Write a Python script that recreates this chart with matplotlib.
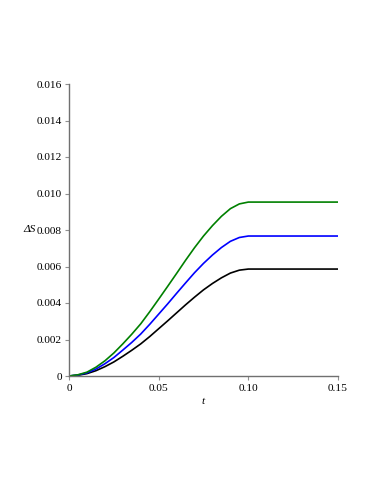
import matplotlib
matplotlib.use("Agg")
import matplotlib.pyplot as plt

t = [0.0, 0.005, 0.01, 0.015, 0.02, 0.025, 0.03, 0.035, 0.04, 0.045, 0.05,
     0.055, 0.06, 0.065, 0.07, 0.075, 0.08, 0.085, 0.09, 0.095, 0.10, 0.15]
green = [0.0, 0.000067, 0.00021, 0.00048, 0.00083, 0.00126, 0.00176, 0.00229,
         0.00286, 0.00352, 0.00421, 0.00491, 0.00562, 0.00634, 0.00703, 0.00767,
         0.00824, 0.00875, 0.00917, 0.00943, 0.00953, 0.00953]
blue = [0.0, 0.000054, 0.00017, 0.00038, 0.00067, 0.00101, 0.00142, 0.00184,
        0.0023, 0.00283, 0.00339, 0.00395, 0.00453, 0.0051, 0.00566, 0.00617,
        0.00663, 0.00704, 0.00738, 0.00759, 0.00767, 0.00767]
black = [0.0, 0.000041, 0.00013, 0.00029, 0.00051, 0.00077, 0.00108, 0.00141,
         0.00176, 0.00216, 0.00259, 0.00302, 0.00346, 0.0039, 0.00432, 0.00472,
         0.00507, 0.00538, 0.00564, 0.0058, 0.00586, 0.00586]

xticks = [0, 0.05, 0.10, 0.15]
xticklabels = ["0", "0.05", "0.10", "0.15"]
yticks = [0, 0.002, 0.004, 0.006, 0.008, 0.010, 0.012, 0.014, 0.016]
yticklabels = ["0", "0.002", "0.004", "0.006", "0.008", "0.010", "0.012", "0.014", "0.016"]

plt.rcParams['font.family'] = ['Liberation Serif', 'DejaVu Serif']

fig = plt.figure(figsize=(3.74, 4.84), dpi=100)
ax = fig.add_axes([69/374, 1-376/484, 269/374, 292/484])

ax.plot(t, black, color="black", lw=1.2, solid_joinstyle="round")
ax.plot(t, blue, color="#0000ff", lw=1.2, solid_joinstyle="round")
ax.plot(t, green, color="#008000", lw=1.2, solid_joinstyle="round")

ax.set_xlim(0, 0.15)
ax.set_ylim(0, 0.016)
ax.set_xticks(xticks)
ax.set_xticklabels(xticklabels)
ax.set_yticks(yticks)
ax.set_yticklabels(yticklabels)

for s in ["top", "right"]:
    ax.spines[s].set_visible(False)
for s in ["left", "bottom"]:
    ax.spines[s].set_color("#707070")
    ax.spines[s].set_linewidth(1.0)

ax.tick_params(axis="both", direction="out", length=3, width=0.8,
               color="#909090", labelsize=8.2, labelcolor="black")
ax.tick_params(axis="y", pad=2)
ax.tick_params(axis="x", pad=3)

ax.text(-0.145, 0.5, "ΔS", transform=ax.transAxes, fontsize=8.2,
        style="italic", ha="center", va="center")
ax.text(0.498, -0.089, "t", transform=ax.transAxes, fontsize=8.2,
        style="italic", ha="center", va="center")

fig.savefig("out.png", dpi=100)
